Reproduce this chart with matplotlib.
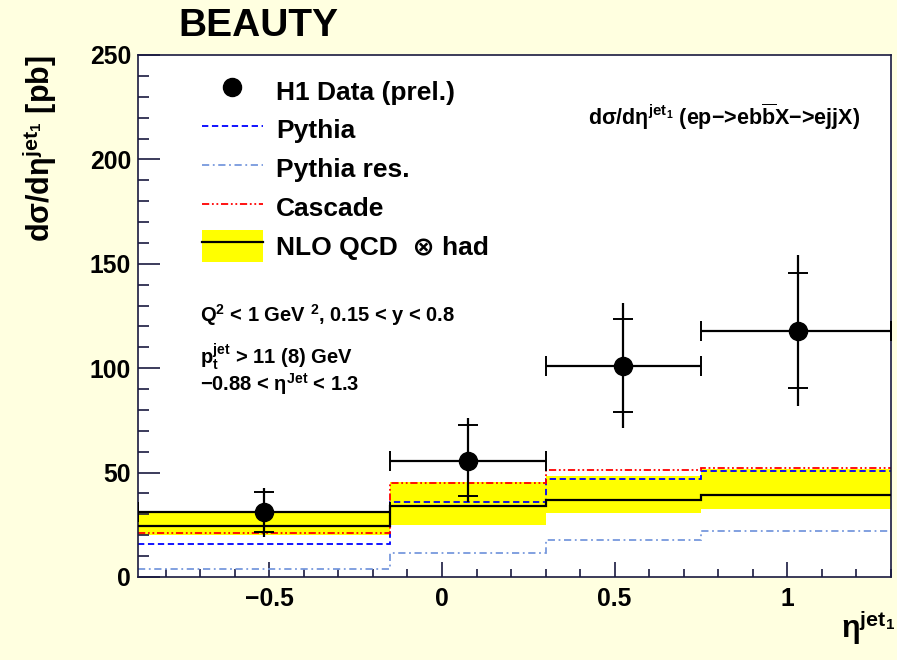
import matplotlib
matplotlib.use('Agg')
import matplotlib.pyplot as plt
from matplotlib.lines import Line2D
from matplotlib.patches import Patch
import numpy as np

#---------data
bin_edges = [-0.88, -0.15, 0.3, 0.75, 1.3]

data_x = [-0.515, 0.075, 0.525, 1.03]
data_y = [31.0, 55.7, 101.2, 118.0]
stat_up = [9.6, 17.1, 22.2, 27.5]
stat_down = [9.3, 16.9, 22.3, 27.3]
tot_up = [11.5, 20.3, 30.2, 36.2]
tot_down = [11.7, 19.6, 30.0, 36.1]

nlo = [24.6, 33.9, 37.0, 39.3]
nlo_up = [31.6, 45.6, 48.5, 51.6]
nlo_down = [20.1, 24.9, 30.8, 32.4]
pythia = [15.6, 36.1, 46.9, 50.8]
pythia_res = [3.7, 11.7, 17.7, 22.2]
cascade = [21.2, 44.9, 51.2, 52.4]

legend_labels = ['H1 Data (prel.)', 'Pythia', 'Pythia res.', 'Cascade', 'NLO QCD  \u2297 had']

#---------style
plt.rcParams['font.family'] = ['Liberation Sans', 'DejaVu Sans']
plt.rcParams['font.weight'] = 'bold'
plt.rcParams['axes.labelweight'] = 'bold'
plt.rcParams['mathtext.fontset'] = 'custom'
plt.rcParams['mathtext.bf'] = 'Liberation Sans:bold'
plt.rcParams['mathtext.rm'] = 'Liberation Sans:bold'
plt.rcParams['mathtext.it'] = 'Liberation Sans:bold'
plt.rcParams['mathtext.default'] = 'bf'

bg = '#ffffe0'
axcol = '#1a1a40'
blue = '#0000ff'
lblue = '#7799dd'
red = '#ff0000'
dash_blue = (0, (3.5, 2))
dash_lblue = (0, (4, 2, 1, 2))
dash_red = (0, (4, 1.5, 1, 1.5, 1, 1.5))

fig = plt.figure(figsize=(8.97, 6.6), dpi=100, facecolor=bg)
ax = fig.add_axes([138 / 897, 1 - 577 / 660, 753 / 897, 522 / 660])
ax.set_facecolor('white')

# theory curves
ax.stairs(nlo_up, bin_edges, baseline=nlo_down, fill=True, color='yellow', zorder=1)
ax.stairs(pythia_res, bin_edges, baseline=None, color=lblue, lw=1.3, linestyle=dash_lblue, zorder=2)
ax.stairs(pythia, bin_edges, baseline=None, color=blue, lw=1.3, linestyle=dash_blue, zorder=2)
ax.stairs(cascade, bin_edges, baseline=None, color=red, lw=1.3, linestyle=dash_red, zorder=2)
ax.stairs(nlo, bin_edges, baseline=None, color='black', lw=1.6, zorder=3)

# data: total errors as line, stat errors as small ticks
x = np.array(data_x)
y = np.array(data_y)
lo = np.array(bin_edges[:-1])
hi = np.array(bin_edges[1:])
ax.errorbar(x, y, yerr=[tot_down, tot_up], xerr=[x - lo, hi - x], fmt='o', color='black',
            ms=13, elinewidth=1.6, capsize=0, zorder=5)
ax.plot(x, y + np.array(stat_up), linestyle='none', marker='_', ms=15, mew=1.4, color='black', zorder=5)
ax.plot(x, y - np.array(stat_down), linestyle='none', marker='_', ms=15, mew=1.4, color='black', zorder=5)
ax.plot(np.concatenate([lo, hi]), np.concatenate([y, y]), linestyle='none', marker='|', ms=14,
        mew=1.4, color='black', zorder=5)

ax.set_xlim(-0.88, 1.3)
ax.set_ylim(0, 250)

# axes / ticks
for s in ax.spines.values():
    s.set_color(axcol)
    s.set_linewidth(1.2)
ax.set_xticks([-0.5, 0, 0.5, 1])
ax.set_xticklabels(['\u22120.5', '0', '0.5', '1'])
ax.set_xticks(np.arange(-0.8, 1.31, 0.1), minor=True)
ax.set_yticks([0, 50, 100, 150, 200, 250])
ax.set_yticks(np.arange(0, 251, 10), minor=True)
ax.tick_params(axis='both', which='both', direction='in', color=axcol, width=1.2,
               labelsize=17.8, top=False, right=False)
ax.tick_params(axis='x', which='major', length=11, pad=7)
ax.tick_params(axis='x', which='minor', length=5.5)
ax.tick_params(axis='y', which='major', length=16, pad=5)
ax.tick_params(axis='y', which='minor', length=8)

ax.set_ylabel('d\u03c3/d\u03b7$^{jet_{1}}$ [pb]', fontsize=22, loc='top')
ax.yaxis.set_label_coords(-0.105, 1.0)
ax.set_xlabel('\u03b7$^{jet_{1}}$', fontsize=22, loc='right')
ax.xaxis.set_label_coords(1.005, -0.06)

fig.text(258 / 897, 1 - 26 / 660, 'BEAUTY', fontsize=28, ha='center', va='center')

# annotations
ax.text(0.598, 0.866, 'd\u03c3/d\u03b7$^{jet_{1}}$ (ep\u2212>eb$\\overline{b}$X\u2212>ejjX)', fontsize=15.5,
        transform=ax.transAxes)
ax.text(0.082, 0.488, 'Q$^{2}$ < 1 GeV $^{2}$, 0.15 < y < 0.8', fontsize=14.5, transform=ax.transAxes)
ax.text(0.082, 0.408, 'p$_{t}^{jet}$ > 11 (8) GeV', fontsize=14.5, transform=ax.transAxes)
ax.text(0.082, 0.356, '\u22120.88 < \u03b7$^{Jet}$ < 1.3', fontsize=14.5, transform=ax.transAxes)

# legend
handles = [
    Line2D([], [], marker='o', color='black', linestyle='none', ms=13),
    Line2D([], [], color=blue, lw=1.3, linestyle=dash_blue),
    Line2D([], [], color=lblue, lw=1.3, linestyle=dash_lblue),
    Line2D([], [], color=red, lw=1.3, linestyle=dash_red),
    (Patch(facecolor='yellow', edgecolor='none'), Line2D([], [], color='black', lw=1.6)),
]
ax.legend(handles, legend_labels, loc='upper left', bbox_to_anchor=(0.085, 0.962), frameon=False,
          fontsize=19, borderpad=0, borderaxespad=0, handlelength=2.3, handleheight=1.5,
          handletextpad=0.5, labelspacing=0.25)

fig.savefig('out.png', dpi=100, facecolor=bg)
